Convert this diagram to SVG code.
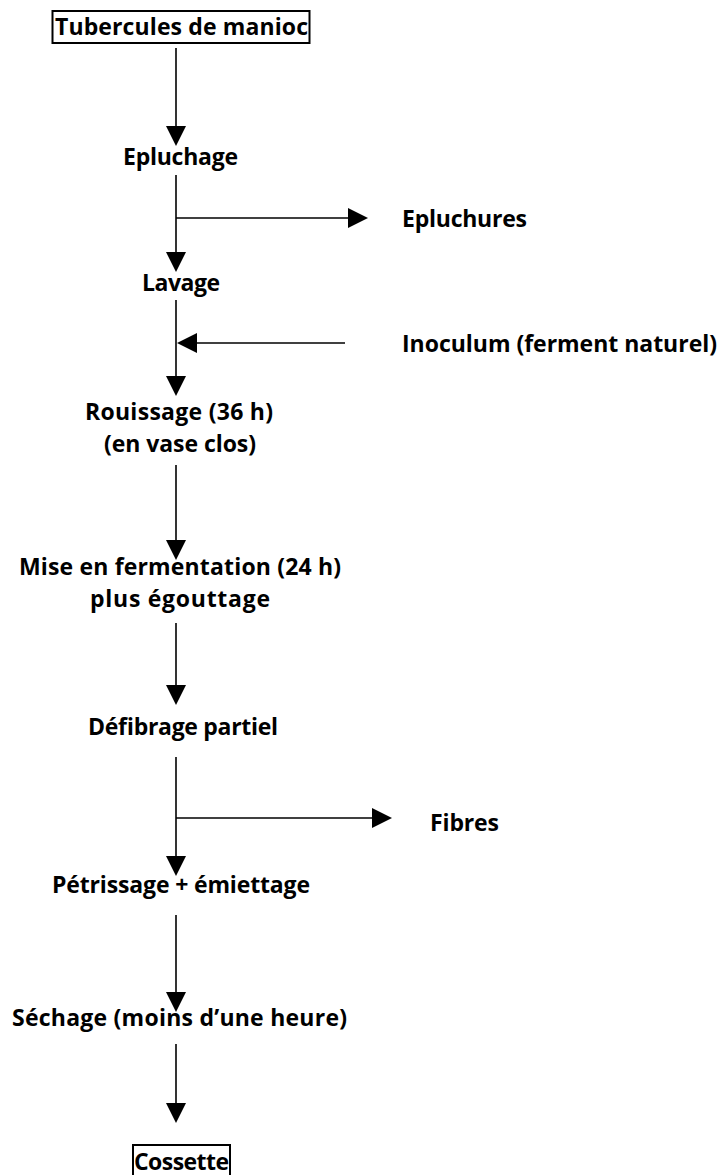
<svg xmlns="http://www.w3.org/2000/svg" width="720" height="1175" viewBox="0 0 720 1175">
<style>
text{font-family:"Open Sans",Lato,"Liberation Sans",sans-serif;font-weight:bold;font-size:23px;fill:#000}
.c{text-anchor:middle}
.ln{stroke:#000;stroke-width:1.6;fill:none}
.box{stroke:#000;stroke-width:2;fill:none}
.ah{fill:#000}
</style>
<defs>
<polygon id="ad" points="-10,0 10,0 0,20"/>
<polygon id="ar" points="0,-10 0,10 20,0"/>
<polygon id="al" points="0,-10 0,10 -20,0"/>
</defs>
<g id="connectors">
<line class="ln" x1="176" y1="48" x2="176" y2="130"/><use href="#ad" class="ah" x="176" y="126"/>
<line class="ln" x1="176" y1="175" x2="176" y2="256"/><use href="#ad" class="ah" x="176" y="252"/>
<line class="ln" x1="176" y1="218" x2="352" y2="218"/><use href="#ar" class="ah" x="348" y="218"/>
<line class="ln" x1="176" y1="300" x2="176" y2="380"/><use href="#ad" class="ah" x="176" y="376"/>
<line class="ln" x1="345" y1="343" x2="192" y2="343"/><use href="#al" class="ah" x="197" y="343"/>
<line class="ln" x1="176" y1="465" x2="176" y2="544"/><use href="#ad" class="ah" x="176" y="540"/>
<line class="ln" x1="176" y1="623" x2="176" y2="689"/><use href="#ad" class="ah" x="176" y="685"/>
<line class="ln" x1="176" y1="757" x2="176" y2="860"/><use href="#ad" class="ah" x="176" y="856"/>
<line class="ln" x1="176" y1="818" x2="376" y2="818"/><use href="#ar" class="ah" x="372" y="818"/>
<line class="ln" x1="176" y1="915" x2="176" y2="996"/><use href="#ad" class="ah" x="176" y="992"/>
<line class="ln" x1="176" y1="1044" x2="176" y2="1107"/><use href="#ad" class="ah" x="176" y="1103"/>
</g>
<g id="n1"><rect class="box" x="52.5" y="11" width="257" height="32"/><text x="55" y="35" textLength="253">Tubercules de manioc</text></g>
<g id="n2"><text x="123" y="165" textLength="115">Epluchage</text></g>
<g id="n3"><text x="402" y="227" textLength="125">Epluchures</text></g>
<g id="n4"><text x="142" y="291" textLength="78">Lavage</text></g>
<g id="n5"><text x="402" y="352" textLength="315">Inoculum (ferment naturel)</text></g>
<g id="n6"><text x="85" y="420" textLength="188">Rouissage (36 h)</text><text x="104" y="452" textLength="152">(en vase clos)</text></g>
<g id="n7"><text x="19" y="575" textLength="322">Mise en fermentation (24 h)</text><text x="90" y="607" textLength="180">plus égouttage</text></g>
<g id="n8"><text x="88" y="735" textLength="190">Défibrage partiel</text></g>
<g id="n9"><text x="430" y="831" textLength="69">Fibres</text></g>
<g id="n10"><text x="52" y="893" textLength="258">Pétrissage + émiettage</text></g>
<g id="n11"><text x="12" y="1026" textLength="335">Séchage (moins d’une heure)</text></g>
<g id="n12"><rect class="box" x="133" y="1145" width="97" height="32"/><text x="134" y="1170" textLength="95">Cossette</text></g>
</svg>
